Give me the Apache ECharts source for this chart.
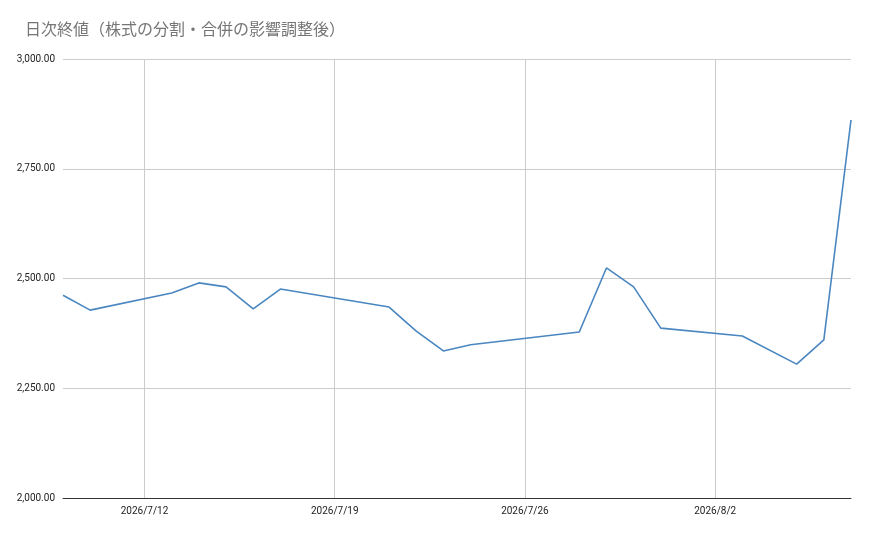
<!DOCTYPE html>
<html><head><meta charset="utf-8">
<script src="https://cdn.jsdelivr.net/npm/echarts@6/dist/echarts.min.js"></script>
<style>html,body{margin:0;padding:0;background:#fff}#c{width:870px;height:534px}</style>
</head><body><div id="c"></div>
<script>
const categories = ['2026/7/9','2026/7/10','2026/7/11','2026/7/12','2026/7/13','2026/7/14','2026/7/15','2026/7/16','2026/7/17','2026/7/18','2026/7/19','2026/7/20','2026/7/21','2026/7/22','2026/7/23','2026/7/24','2026/7/25','2026/7/26','2026/7/27','2026/7/28','2026/7/29','2026/7/30','2026/7/31','2026/8/1','2026/8/2','2026/8/3','2026/8/4','2026/8/5','2026/8/6','2026/8/7'];
const closeValues = [2462,2428,null,null,2467,2490,2481,2431,2476,null,null,null,2435,2380,2335,2349,null,null,null,2378,2524,2481,2387,null,null,2369,null,2305,2360,2861];
const tickLabels = ['2026/7/12','2026/7/19','2026/7/26','2026/8/2'];
const chart = echarts.init(document.getElementById('c'));
const showTick = (i) => tickLabels.includes(categories[i]);
chart.setOption({
  animation:false,
  title:{text:'日次終値（株式の分割・合併の影響調整後）',left:20,top:16,textStyle:{fontSize:16,fontWeight:'normal',color:'#757575',fontFamily:'Noto Sans CJK JP'}},
  grid:{left:63,right:19,top:59,bottom:36},
  xAxis:{type:'category',data:categories,boundaryGap:false,
    axisLine:{show:true,lineStyle:{color:'#333'}},axisTick:{show:false},
    axisLabel:{interval:(i)=>showTick(i),color:'#222',fontSize:10,margin:8,fontFamily:'Roboto'},
    splitLine:{show:true,interval:(i)=>showTick(i),lineStyle:{color:'#ccc'}}},
  yAxis:{type:'value',min:2000,max:3000,interval:250,
    axisLine:{show:false},axisTick:{show:false},
    axisLabel:{color:'#222',fontSize:10,fontFamily:'Roboto',formatter:v=>v.toLocaleString('en-US',{minimumFractionDigits:2,maximumFractionDigits:2})},
    splitLine:{lineStyle:{color:'#ccc'}}},
  series:[{type:'line',data:closeValues,connectNulls:true,showSymbol:false,lineStyle:{color:'#4a86c0',width:1.6}}]
});
</script></body></html>
